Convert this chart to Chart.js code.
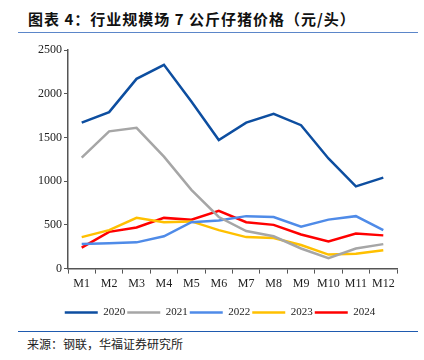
<!DOCTYPE html>
<html><head><meta charset="utf-8">
<script src="https://cdn.jsdelivr.net/npm/chart.js@4/dist/chart.umd.min.js"></script>
<style>
html,body{margin:0;padding:0;background:#fff;width:424px;height:360px;overflow:hidden;position:relative}
#title{position:absolute;left:28px;top:8px;font:bold 15px "Noto Sans CJK SC";color:#111;letter-spacing:1px;white-space:nowrap}
#l1{position:absolute;left:18px;top:32px;width:400px;height:1px;background:#5b86c9}
#l2{position:absolute;left:18px;top:331px;width:400px;height:1px;background:#1f5aaf}
#src{position:absolute;left:27px;top:335px;font:12px "Noto Sans CJK SC";color:#222;white-space:nowrap}
#wrap{position:absolute;left:0;top:40px;width:424px;height:288px}
</style></head><body>
<div id="title">图表 4：行业规模场 7 公斤仔猪价格（元/头）</div>
<div id="l1"></div>
<div id="wrap"><canvas id="c"></canvas></div>
<div id="l2"></div>
<div id="src">来源：钢联，华福证券研究所</div>
<script>
const categories = ["M1","M2","M3","M4","M5","M6","M7","M8","M9","M10","M11","M12"];
const y2020 = [1670,1790,2170,2330,1910,1470,1670,1770,1640,1260,940,1040];
const y2021 = [1270,1570,1610,1280,900,590,430,370,230,120,230,280];
const y2022 = [280,290,300,370,530,550,600,590,480,560,600,440];
const y2023 = [360,440,580,530,540,440,360,350,270,160,170,210];
const y2024 = [240,420,470,580,560,660,530,500,390,310,400,380];
const seriesNames = ["2020","2021","2022","2023","2024"];
const yTicks = [0,500,1000,1500,2000,2500];

const colors = ["#0d4ea0","#a6a6a6","#4f8be8","#ffc000","#ff0000"];
const values = [y2020,y2021,y2022,y2023,y2024];
const datasets = values.map((v,i)=>({
  label: seriesNames[i], data: v, borderColor: colors[i], backgroundColor: colors[i],
  borderWidth: 2.5, pointRadius: 0, tension: 0, fill: false
}));
const axisColor = "#555";
const tickFont = {family: "Liberation Serif", size: 12};
new Chart(document.getElementById("c"), {
  type: "line",
  data: {labels: categories, datasets},
  options: {
    responsive: true, maintainAspectRatio: false, animation: false,
    layout: {padding: {left: 16, right: 0, top: 10, bottom: 0}},
    plugins: {
      legend: {position: "bottom", labels: {usePointStyle: true, pointStyle: "line", pointStyleWidth: 33,
        boxHeight: 11, padding: 2, color: "#222", font: {family: "Liberation Serif", size: 11}}},
      tooltip: {enabled: false}
    },
    scales: {
      x: {offset: true,
        afterFit: s => { s.height += 11; },
        grid: {display: true, offset: true, drawOnChartArea: false, drawTicks: true, tickLength: 5, color: axisColor},
        border: {color: axisColor, width: 1.5},
        ticks: {color: "#222", font: tickFont, padding: 3, maxRotation: 0, autoSkip: false}
      },
      y: {min: 0, max: 2500,
        afterBuildTicks: s => { s.ticks = yTicks.map(v=>({value:v})); },
        afterFit: s => { s.width = 52; },
        grid: {display: true, drawOnChartArea: false, drawTicks: true, tickLength: 4, color: axisColor},
        border: {color: axisColor, width: 1.5},
        ticks: {color: "#222", font: tickFont, padding: 2, callback: v => String(v)}
      },
      yr: {position: "right", min: 0, max: 2500,
        afterFit: s => { s.width = 27; },
        grid: {display: false}, border: {display: false}, ticks: {display: false}
      }
    }
  }
});
</script>
</body></html>
